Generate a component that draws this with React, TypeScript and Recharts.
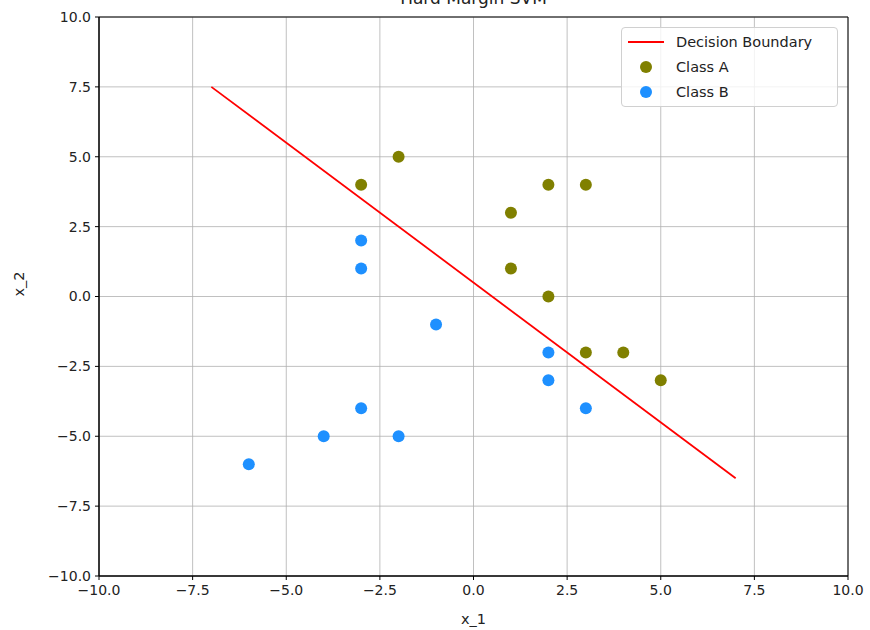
import {
  CartesianGrid,
  ReferenceArea,
  Scatter,
  ScatterChart,
  XAxis,
  YAxis,
} from "recharts";

const classA = [
  { x: -3, y: 4 },
  { x: -2, y: 5 },
  { x: 1, y: 3 },
  { x: 2, y: 4 },
  { x: 3, y: 4 },
  { x: 1, y: 1 },
  { x: 2, y: 0 },
  { x: 3, y: -2 },
  { x: 4, y: -2 },
  { x: 5, y: -3 },
];

const classB = [
  { x: -3, y: 2 },
  { x: -3, y: 1 },
  { x: -1, y: -1 },
  { x: 2, y: -2 },
  { x: 2, y: -3 },
  { x: 3, y: -4 },
  { x: -3, y: -4 },
  { x: -4, y: -5 },
  { x: -2, y: -5 },
  { x: -6, y: -6 },
];

const boundary = [
  { x: -7, y: 7.5 },
  { x: 7, y: -6.5 },
];

const ticks = [-10, -7.5, -5, -2.5, 0, 2.5, 5, 7.5, 10];

const FONT = "'DejaVu Sans', sans-serif";
const fmt = (v: number) => v.toFixed(1).replace("-", "\u2212");

function Dot({ cx, cy, fill }: { cx?: number; cy?: number; fill?: string }) {
  return <circle cx={cx} cy={cy} r={6} fill={fill} />;
}

function LegendBox() {
  const row = { display: "flex", alignItems: "center", height: 25 } as const;
  return (
    <div
      style={{
        position: "absolute",
        left: 621,
        top: 27,
        width: 217,
        height: 80,
        border: "1px solid #d0d0d0",
        borderRadius: 4,
        background: "rgba(255,255,255,0.8)",
        fontFamily: FONT,
        fontSize: 14.5,
        color: "#222",
        boxSizing: "border-box",
        paddingTop: 1,
      }}
    >
      <div style={row}>
        <div style={{ width: 36, height: 2, background: "red", marginLeft: 6, marginRight: 12 }} />
        Decision Boundary
      </div>
      <div style={row}>
        <div style={{ width: 12, height: 12, borderRadius: 6, background: "#808000", marginLeft: 18, marginRight: 24 }} />
        Class A
      </div>
      <div style={row}>
        <div style={{ width: 12, height: 12, borderRadius: 6, background: "#1e90ff", marginLeft: 18, marginRight: 24 }} />
        Class B
      </div>
    </div>
  );
}

export default function App() {
  return (
    <div style={{ position: "absolute", left: 0, top: 0, width: 870, height: 630, background: "#fff", overflow: "hidden" }}>
      <div
        style={{
          position: "absolute",
          left: 0,
          width: 947,
          top: -12,
          textAlign: "center",
          fontFamily: FONT,
          fontSize: 17,
          color: "#222",
        }}
      >
        Hard Margin SVM
      </div>
      <ScatterChart width={870} height={630} margin={{ top: 17, right: 22, bottom: 24, left: 39 }}>
        <CartesianGrid stroke="#b0b0b0" strokeWidth={0.8} horizontalValues={ticks} verticalValues={ticks} />
        <XAxis
          type="number"
          dataKey="x"
          domain={[-10, 10]}
          ticks={ticks}
          tickFormatter={fmt}
          height={30}
          stroke="#000"
          tickSize={4}
          tickMargin={5}
          tick={{ fontFamily: FONT, fontSize: 14, fill: "#222" }}
          label={{ value: "x_1", position: "insideBottom", offset: -18, fontFamily: FONT, fontSize: 14.5, fill: "#222" }}
        />
        <YAxis
          type="number"
          dataKey="y"
          domain={[-10, 10]}
          ticks={ticks}
          tickFormatter={fmt}
          width={60}
          stroke="#000"
          tickSize={4}
          tickMargin={4}
          tick={{ fontFamily: FONT, fontSize: 14, fill: "#222" }}
          label={{ value: "x_2", angle: -90, position: "insideLeft", offset: -20, fontFamily: FONT, fontSize: 14.5, fill: "#222" }}
        />
        <ReferenceArea x1={-10} x2={10} y1={-10} y2={10} fill="none" stroke="#000" strokeWidth={1} ifOverflow="visible" />
        <Scatter
          data={boundary}
          line={{ stroke: "red", strokeWidth: 1.8 }}
          shape={() => <g />}
          isAnimationActive={false}
        />
        <Scatter data={classA} fill="#808000" shape={<Dot />} isAnimationActive={false} />
        <Scatter data={classB} fill="#1e90ff" shape={<Dot />} isAnimationActive={false} />
      </ScatterChart>
      <LegendBox />
    </div>
  );
}
